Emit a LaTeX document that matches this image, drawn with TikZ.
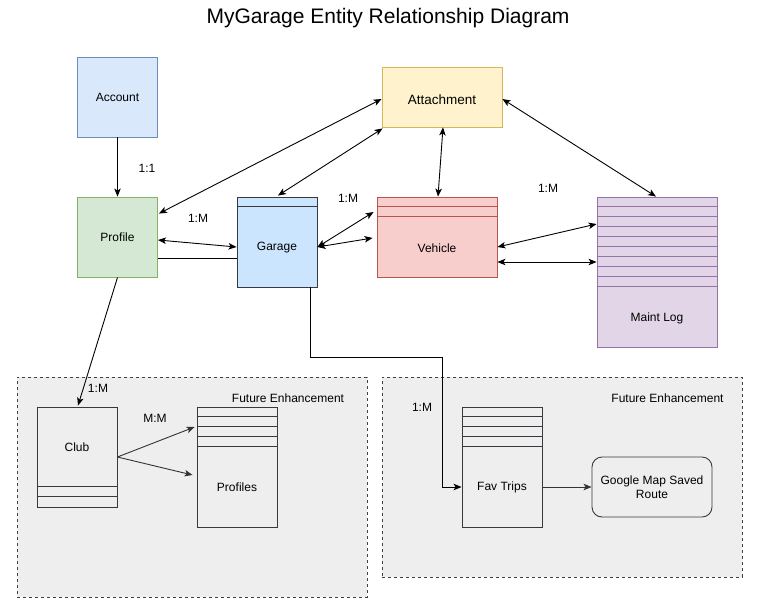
\documentclass[tikz,border=0pt]{standalone}
\usepackage{fontspec}
\setmainfont{Liberation Sans}
\usetikzlibrary{calc,arrows.meta}
\definecolor{bluef}{HTML}{DAE8FC}\definecolor{blued}{HTML}{6C8EBF}
\definecolor{greenf}{HTML}{D5E8D4}\definecolor{greend}{HTML}{82B366}
\definecolor{garf}{HTML}{CCE5FF}\definecolor{darkc}{HTML}{36393D}
\definecolor{redf}{HTML}{F8CECC}\definecolor{redd}{HTML}{B85450}
\definecolor{yelf}{HTML}{FFF2CC}\definecolor{yeld}{HTML}{D6B656}
\definecolor{purf}{HTML}{E1D5E7}\definecolor{purd}{HTML}{9673A6}
\definecolor{grpf}{HTML}{EEEEEE}\definecolor{arrg}{HTML}{333333}
\begin{document}
\begin{tikzpicture}[x=1pt,y=-1pt,
  every node/.style={font=\fontsize{12}{14}\selectfont, inner sep=0pt},
  ent/.style={draw, line width=0.9pt},
  grp/.style={draw=black!75, fill=grpf, dashed, line width=0.8pt, dash pattern=on 3pt off 3pt},
  tip/.tip={Stealth[length=8pt,width=6.5pt,inset=2pt]},
  arr/.style={line width=0.9pt, -tip},
  darr/.style={line width=0.9pt, tip-tip},
  plain/.style={line width=0.9pt},
  sep/.style={line width=0.8pt},
  lbl/.style={font=\fontsize{12}{14}\selectfont}
]
\useasboundingbox (0,0) rectangle (768,614);
\fill[white] (0,0) rectangle (768,614);

% title
\node[font=\fontsize{21}{25}\selectfont] (title) at (388,18) {MyGarage Entity Relationship Diagram};

% groups
\node[grp, minimum width=350pt, minimum height=220pt] (grpL) at (192,487) {};
\node[grp, minimum width=360pt, minimum height=200pt] (grpR) at (562,477) {};
\node (feL) at (288,398) {Future Enhancement};
\node (feR) at (667.5,398) {Future Enhancement};

% main entities
\node[ent, fill=bluef, draw=blued, minimum width=80pt, minimum height=80pt] (account) at (117.5,97) {Account};
\node[ent, fill=greenf, draw=greend, minimum width=80pt, minimum height=80pt] (profile) at (117.5,237) {Profile};
\node[ent, fill=garf, draw=darkc, minimum width=80pt, minimum height=90pt] (garage) at (277,242) {};
\node (garaget) at (277,248) {Garage};
\node[ent, fill=redf, draw=redd, minimum width=120pt, minimum height=80pt] (vehicle) at (437,237) {};
\node (vehiclet) at (437,248) {Vehicle};
\node[ent, fill=yelf, draw=yeld, minimum width=120pt, minimum height=60pt] (attach) at (442,97) {};
\node[font=\fontsize{13.5}{16}\selectfont] (attacht) at (442,100) {Attachment};
\node[ent, fill=purf, draw=purd, minimum width=120pt, minimum height=150pt] (maint) at (657,272) {};
\node (maintt) at (657,318) {Maint Log};

% compartments
\draw[darkc, sep] ([yshift=-10pt]garage.north west) -- ([yshift=-10pt]garage.north east);
\foreach \d in {10,20}
  \draw[redd, sep] ([yshift=-\d pt]vehicle.north west) -- ([yshift=-\d pt]vehicle.north east);
\foreach \d in {10,20,...,90}
  \draw[purd, sep] ([yshift=-\d pt]maint.north west) -- ([yshift=-\d pt]maint.north east);

% future entities
\node[ent, draw=darkc, minimum width=80pt, minimum height=100pt] (club) at (77,457) {};
\node (clubt) at (77,447) {Club};
\foreach \d in {80,90}
  \draw[darkc, sep] ([yshift=-\d pt]club.north west) -- ([yshift=-\d pt]club.north east);
\node[ent, draw=darkc, minimum width=80pt, minimum height=120pt] (profiles) at (237,467) {};
\node (profilest) at (237,487) {Profiles};
\foreach \d in {10,20,30,40}
  \draw[darkc, sep] ([yshift=-\d pt]profiles.north west) -- ([yshift=-\d pt]profiles.north east);
\node[ent, draw=darkc, minimum width=80pt, minimum height=120pt] (fav) at (502,467) {};
\node (favt) at (502,487) {Fav Trips};
\foreach \d in {10,20,30,40}
  \draw[darkc, sep] ([yshift=-\d pt]fav.north west) -- ([yshift=-\d pt]fav.north east);
\node[ent, draw=darkc, rounded corners=10pt, minimum width=120pt, minimum height=60pt, align=center] (google) at (652,487) {Google Map Saved\\Route};

% connectors
\draw[arr] (account.south) -- (profile.north);
\draw[darr] ($(profile.north east)+(1,17)$) -- ($(attach.west)+(0,2)$);
\draw[darr] ($(garage.north)+(1,-1)$) -- ($(attach.south west)+(1,1)$);
\draw[darr] ($(attach.south)+(1,0)$) -- ($(vehicle.north)+(1,0)$);
\draw[darr] ($(attach.east)+(0,2)$) -- ($(maint.north)+(-1,0)$);
\draw[darr] ($(profile.east)+(0,3)$) -- ($(garage.west)+(0,5)$);
\draw[plain] ($(profile.east)+(0,21)$) -- ($(garage.west)+(0,16)$);
\draw[darr] ($(garage.east)+(0,5)$) -- ($(vehicle.west)+(-3,-25)$);
\draw[darr] ($(garage.east)+(0,5)$) -- ($(vehicle.west)+(-4,1)$);
\draw[darr] ($(vehicle.east)+(0,10)$) -- ($(maint.west)+(0,-48)$);
\draw[darr] ($(vehicle.east)+(0,25)$) -- ($(maint.west)+(0,-10)$);
\draw[arr] (profile.south) -- ($(club.north)+(1,-1)$);
\draw[arr, arrg] (club.east) -- ($(profiles.west)+(-2,-40)$);
\draw[arr, arrg] (club.east) -- ($(profiles.west)+(-4,8)$);
\coordinate (bend) at (442,357);
\draw[arr] ($(garage.south east)+(-7,0)$) |- (bend) |- ($(fav.west)+(0,20)$);
\draw[arr, arrg] ($(fav.east)+(0,20)$) -- (google.west);

% cardinality labels
\node[lbl] (l1) at (147,168) {1:1};
\node[lbl] (l2) at (198,218) {1:M};
\node[lbl] (l3) at (348,198) {1:M};
\node[lbl] (l4) at (548,188) {1:M};
\node[lbl] (l5) at (98,388) {1:M};
\node[lbl] (l6) at (155,418) {M:M};
\node[lbl] (l7) at (422,407) {1:M};
\end{tikzpicture}
\end{document}
